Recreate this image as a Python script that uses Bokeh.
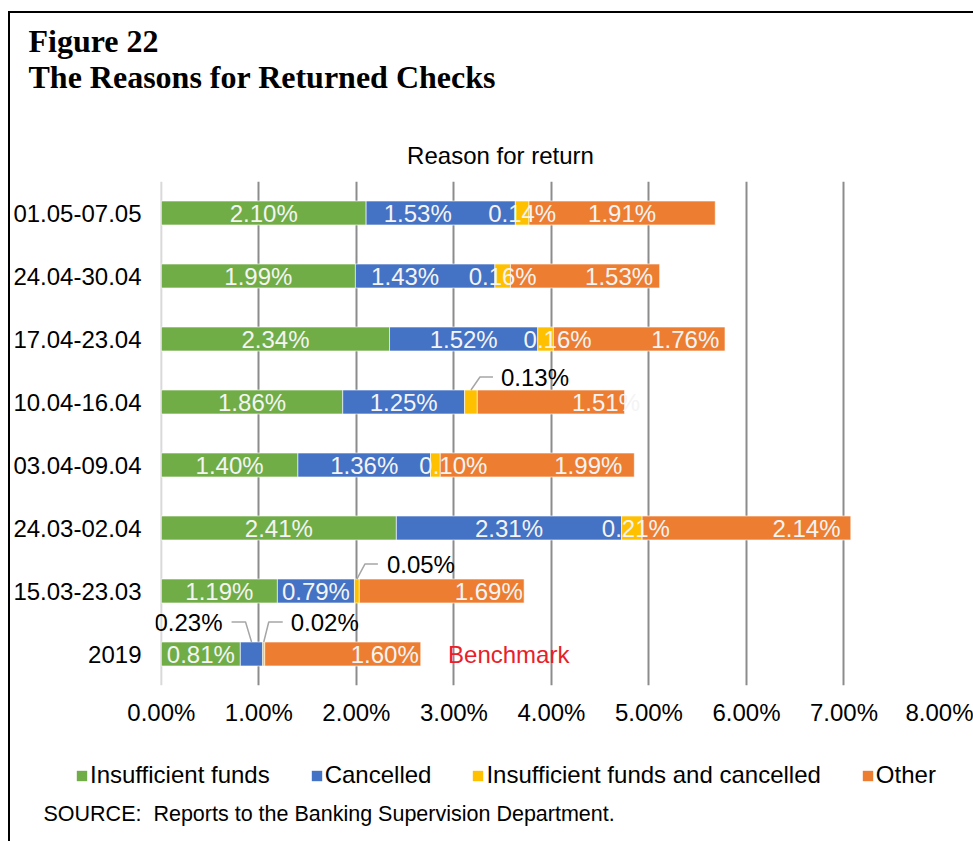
from bokeh.plotting import figure
from bokeh.layouts import column
from bokeh.models import (Range1d, FixedTicker, PrintfTickFormatter, Label, Legend, LegendItem,
                          ColumnDataSource, Span)
from bokeh.embed import file_html
from bokeh.resources import INLINE
from bokeh.core.properties import value

# ---------------- data (bottom row first) ----------------
categories = ["2019", "15.03-23.03", "24.03-02.04", "03.04-09.04",
              "10.04-16.04", "17.04-23.04", "24.04-30.04", "01.05-07.05"]
insufficient = [0.81, 1.19, 2.41, 1.40, 1.86, 2.34, 1.99, 2.10]
cancelled = [0.23, 0.79, 2.31, 1.36, 1.25, 1.52, 1.43, 1.53]
both = [0.02, 0.05, 0.21, 0.10, 0.13, 0.16, 0.16, 0.14]
other = [1.60, 1.69, 2.14, 1.99, 1.51, 1.76, 1.53, 1.91]
series_names = ["Insufficient funds", "Cancelled", "Insufficient funds and cancelled", "Other"]
x_ticks = [0, 1, 2, 3, 4, 5, 6, 7, 8]

# ---------------- styles ----------------
colors = ["#70AD47", "#4472C4", "#FFC000", "#ED7D31"]
FONT = "Liberation Sans"
X0 = -0.06
W = 963
H0, H1, H2 = 168, 552, 108
PXX = 97.5
FRAME_W = round((8 - X0) * PXX)
BL = 145
BR = W - BL - FRAME_W
FRAME_H = 504
BB = H1 - FRAME_H
PXY = FRAME_H / 8.0
BAR_H = 0.38
# horizontal nudges (px) of in-bar labels, per series, per row
label_nudge = [
    [0, 0, 0, 0, 0, 0, 0, 0],
    [0, 0, 0, 0, 0, 0, -20, -23],
    [0, 0, 4, 18, 0, 12, 0, 0],
    [42, 47, 60, 51, 55, 46, 34, 0],
]
# callouts: (row, series, elbow_dx, rise, end_dx, text_dx, align)
callouts = [
    (4, 2, 9, 13, 22, 30, "left"),
    (1, 2, 8, 15, 21, 30, "left"),
    (0, 1, -6, 20, -20, -29, "right"),
    (0, 2, 5, 20, 19, 27, "left"),
]

series = [insufficient, cancelled, both, other]
rows = list(range(len(categories)))


def blank_strip(h):
    f = figure(width=W, height=h, x_range=Range1d(0, W), y_range=Range1d(0, h),
               x_axis_type=None, y_axis_type=None, output_backend="svg", toolbar_location=None,
               min_border_left=0, min_border_right=0, min_border_top=0, min_border_bottom=0)
    f.outline_line_color = None
    f.background_fill_color = "white"
    f.border_fill_color = "white"
    f.frame_align = False
    return f


# ---------------- heading strip ----------------
p0 = blank_strip(H0)
p0.add_layout(Label(x=18, y=H0 - 27, text="Figure 22", text_font="Liberation Serif",
                    text_font_style="bold", text_font_size="32px", text_baseline="middle",
                    text_color="black"))
p0.add_layout(Label(x=18, y=H0 - 63, text="The Reasons for Returned Checks",
                    text_font="Liberation Serif", text_font_style="bold", text_font_size="32px",
                    text_baseline="middle", text_color="black"))
p0.add_layout(Label(x=490, y=H0 - 142, text="Reason for return", text_font=FONT,
                    text_font_size="24px", text_align="center", text_baseline="middle",
                    text_color="black"))

# ---------------- main chart ----------------
p = figure(width=W, height=H1, x_range=Range1d(X0, 8), y_range=Range1d(-0.5, 7.5),
           output_backend="svg", toolbar_location=None,
           min_border_left=BL, min_border_right=BR, min_border_top=0, min_border_bottom=BB)
p.outline_line_color = None
p.background_fill_color = "white"
p.border_fill_color = "white"
p.frame_align = False

p.xaxis.ticker = FixedTicker(ticks=x_ticks)
p.xaxis.formatter = PrintfTickFormatter(format="%.2f%%")
p.xaxis.axis_line_color = None
p.xaxis.major_tick_line_color = None
p.xaxis.minor_tick_line_color = None
p.xaxis.major_tick_out = 0
p.xaxis.major_tick_in = 0
p.xaxis.major_label_standoff = 13
p.xaxis.major_label_text_font = FONT
p.xaxis.major_label_text_font_size = "24px"
p.xaxis.major_label_text_color = "black"

p.yaxis.ticker = FixedTicker(ticks=rows)
p.yaxis.major_label_overrides = {i: c for i, c in enumerate(categories)}
p.yaxis.axis_line_color = None
p.yaxis.major_tick_line_color = None
p.yaxis.minor_tick_line_color = None
p.yaxis.major_tick_out = 0
p.yaxis.major_tick_in = 0
p.yaxis.major_label_standoff = 14
p.yaxis.major_label_text_font = FONT
p.yaxis.major_label_text_font_size = "24px"
p.yaxis.major_label_text_color = "black"

p.xgrid.ticker = FixedTicker(ticks=x_ticks[1:])
p.xgrid.grid_line_color = "#8C8C8C"
p.xgrid.grid_line_width = 2
p.ygrid.grid_line_color = None
p.add_layout(Span(location=0, dimension="height", line_color="#D9D9D9", line_width=2, level="underlay"))

lefts = [0.0] * len(rows)
seg_bounds = []
for si, vals in enumerate(series):
    rights = [l + v for l, v in zip(lefts, vals)]
    src = ColumnDataSource(dict(y=rows, left=lefts, right=rights))
    p.hbar(y="y", left="left", right="right", height=BAR_H, source=src,
           fill_color=colors[si], line_color="white", line_alpha=0.6, line_width=1)
    seg_bounds.append((list(lefts), rights))
    lefts = rights

callout_keys = {(c[0], c[1]) for c in callouts}
lx, ly, lt = [], [], []
for si, vals in enumerate(series):
    l, r = seg_bounds[si]
    for i in rows:
        if (i, si) in callout_keys:
            continue
        lx.append((l[i] + r[i]) / 2 + label_nudge[si][i] / PXX)
        ly.append(i)
        lt.append(f"{vals[i]:.2f}%")
p.text(x=lx, y=ly, text=lt, text_font=value(FONT), text_font_size="24px",
       text_color="#F4F4F4", text_align="center", text_baseline="middle")

xs, ys = [], []
for row, si, edx, rise, ndx, tdx, align in callouts:
    l, r = seg_bounds[si]
    x0 = (l[row] + r[row]) / 2
    y0 = row + BAR_H / 2
    y1 = y0 + rise / PXY
    xs.append([x0, x0 + edx / PXX, x0 + ndx / PXX])
    ys.append([y0, y1, y1])
    p.add_layout(Label(x=x0 + tdx / PXX, y=y1, text=f"{series[si][row]:.2f}%",
                       text_align=align, text_baseline="middle", text_font=FONT,
                       text_font_size="24px", text_color="black"))
p.multi_line(xs=xs, ys=ys, line_color="#A6A6A6", line_width=1.5)

p.add_layout(Label(x=seg_bounds[3][1][0] + 0.28, y=0, text="Benchmark", text_font=FONT,
                   text_font_size="24px", text_baseline="middle", text_color="#E8202A"))

# ---------------- bottom strip: legend + source ----------------
p2 = blank_strip(H2)
legend_renderers = [p2.hbar(y=[-10], left=[0], right=[1], height=1, fill_color=c, line_color=None)
                    for c in colors]
legend = Legend(items=[LegendItem(label=n, renderers=[r])
                       for n, r in zip(series_names, legend_renderers)],
                orientation="horizontal", location=(65, 52))
legend.label_text_font = FONT
legend.label_text_font_size = "24px"
legend.label_text_color = "black"
legend.glyph_width = 13
legend.glyph_height = 13
legend.label_standoff = 2
legend.spacing = 40
legend.padding = 0
legend.margin = 0
legend.border_line_color = None
legend.background_fill_alpha = 0
p2.add_layout(legend, "center")
p2.add_layout(Label(x=33, y=28, text="SOURCE:\u00a0 Reports to the Banking Supervision Department.",
                    text_font=FONT, text_font_size="21.5px", text_baseline="middle",
                    text_color="black"))

layout = column(p0, p, p2, spacing=0,
                styles={"border-left": "2px solid black", "border-top": "2px solid black"})
layout.margin = (11, 0, 0, 8)

open("out.html", "w").write(file_html(layout, INLINE))
